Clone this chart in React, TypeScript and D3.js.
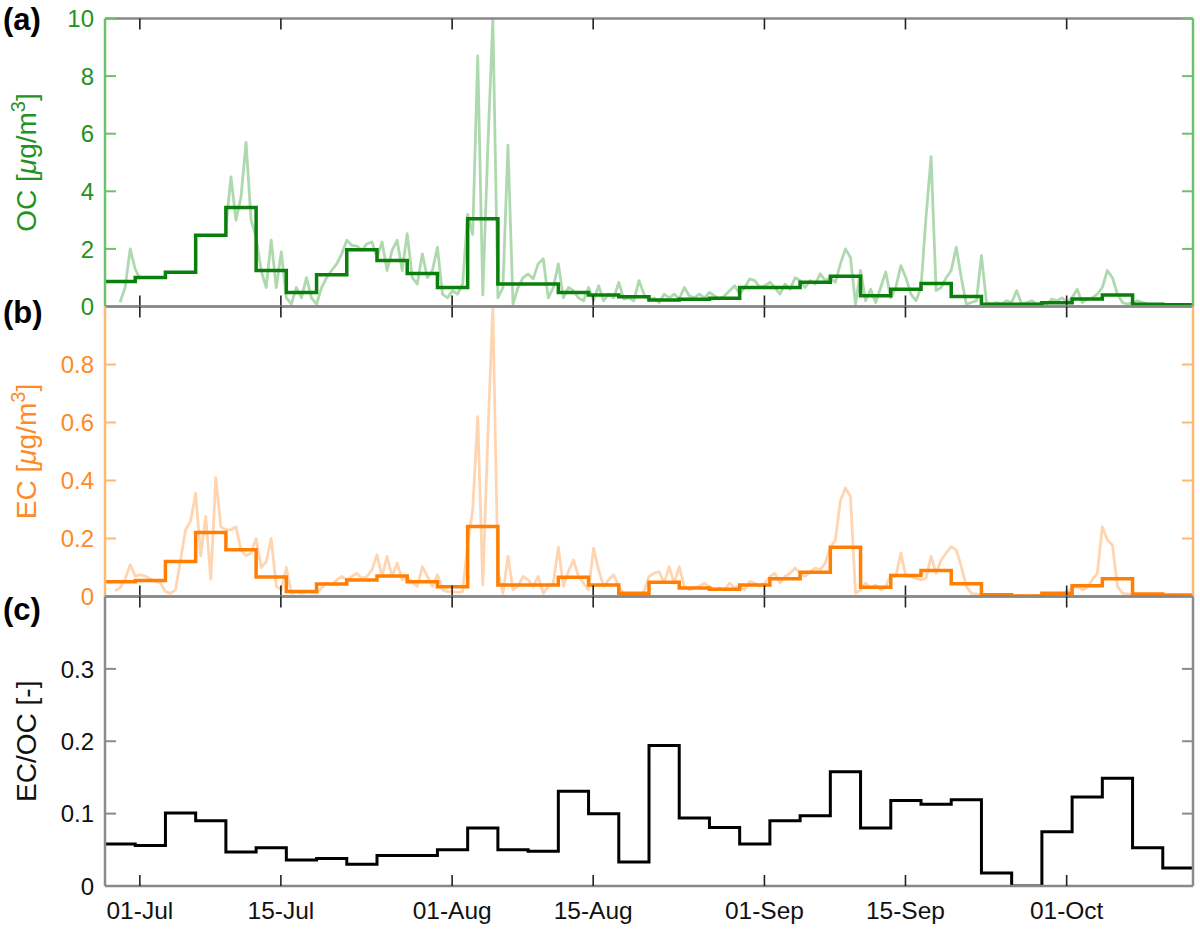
import React, { useEffect, useRef } from "react";
import * as d3 from "d3";

// time base: 3-day filter samples, half-day fine resolution
const START = Date.UTC(2014, 5, 27, 13, 0);
const DAY = 864e5;
const STEP_DAYS = 3;
const FINE_DAYS = 0.5;

const dateTicks = ["2014-07-01", "2014-07-15", "2014-08-01", "2014-08-15", "2014-09-01", "2014-09-15", "2014-10-01"];
const ocTicks = [0, 2, 4, 6, 8, 10];
const ecTicks = [0, 0.2, 0.4, 0.6, 0.8];
const ratioTicks = [0, 0.1, 0.2, 0.3];

// 3-day averages
const ocStep = [0.87, 1.01, 1.19, 2.47, 3.44, 1.25, 0.49, 1.1, 1.97, 1.6, 1.15, 0.66, 3.05, 0.78, 0.78, 0.49, 0.4, 0.34, 0.23, 0.25, 0.29, 0.66, 0.66, 0.84, 1.05, 0.37, 0.6, 0.8, 0.35, 0.08, 0.08, 0.13, 0.26, 0.4, 0.08, 0.06];
const ecStep = [0.051, 0.055, 0.121, 0.221, 0.161, 0.067, 0.017, 0.043, 0.057, 0.071, 0.051, 0.034, 0.241, 0.04, 0.04, 0.066, 0.04, 0.011, 0.049, 0.029, 0.025, 0.04, 0.061, 0.084, 0.17, 0.032, 0.072, 0.09, 0.044, 0.006, 0.002, 0.011, 0.037, 0.061, 0.009, 0.005];
const ratioStep = [0.058, 0.056, 0.101, 0.09, 0.047, 0.053, 0.036, 0.038, 0.03, 0.042, 0.042, 0.05, 0.08, 0.05, 0.048, 0.131, 0.1, 0.033, 0.194, 0.094, 0.081, 0.058, 0.09, 0.097, 0.158, 0.08, 0.118, 0.113, 0.119, 0.018, 0, 0.075, 0.123, 0.149, 0.053, 0.025];

// half-day values (null = no data)
const ocFine = [
  null, null, null, 0.15, 0.66, 2.0, 1.3, 0.95, null, null, null, null,
  null, null, null, null, null, null, null, null, null, null, null, null,
  2.75, 4.5, 3.0, 3.8, 5.7, 3.0, 2.4, 1.25, 0.66, 2.3, 0.66, 1.9,
  0.3, 0.08, 0.66, 0.3, 1.0, 0.3, 0.08, 0.66, 1.0, 1.25, 1.48, 1.83,
  2.3, 2.12, 2.1, 1.95, 2.18, 2.24, 1.7, 2.24, 1.25, 1.95, 2.3, 1.25,
  2.53, 1.0, 0.78, 1.83, 1.0, 1.25, 2.06, 0.43, 0.3, 0.55, 0.43, 0.78,
  3.2, 2.5, 8.7, 0.4, 5.5, 10.0, 0.3, 0.66, 5.6, 0.08, 0.66, 1.0,
  1.13, 0.96, 1.48, 1.66, 0.3, 0.66, 1.48, 0.3, 0.66, 0.55, 0.3, 0.2,
  0.66, 0.2, 0.72, 0.2, 0.43, 0.3, 0.84, 0.26, 0.3, 0.2, 0.9, 0.43,
  0.2, 0.3, 0.14, 0.43, 0.3, 0.43, 0.26, 0.66, 0.37, 0.3, 0.43, 0.3,
  0.49, 0.37, 0.26, 0.37, 0.55, 0.72, 0.43, 0.66, 0.96, 0.9, 0.66, 0.72,
  0.84, 0.66, 0.43, 0.78, 0.6, 1.0, 0.9, 0.66, 0.9, 0.78, 1.13, 0.9,
  1.0, 0.84, 1.48, 2.0, 1.7, 0.08, 1.25, 0.2, 0.6, 0.14, 0.66, 1.2,
  0.3, 0.66, 1.42, 1.0, 0.43, 0.2, 0.66, 3.1, 5.2, 0.55, 0.66, 1.0,
  1.25, 2.06, 1.0, 0.08, 0.14, 0.2, 1.77, 0.14, 0.08, 0.14, 0.08, 0.2,
  0.14, 0.55, 0.08, 0.14, 0.2, 0.08, 0.14, 0.08, 0.26, 0.2, 0.3, 0.14,
  0.3, 0.6, 0.14, 0.26, 0.3, 0.43, 0.66, 1.25, 1.0, 0.43, 0.14, 0.08,
  0.14, 0.2, 0.14, 0.08, 0.06, 0.05, 0.05, 0.04, 0.04, 0.04, 0.04, 0.03,
];
const ecFine = [
  null, null, 0.02, 0.03, 0.06, 0.11, 0.07, 0.075, 0.07, 0.06, 0.052, 0.046,
  0.017, 0.011, 0.023, 0.126, 0.23, 0.26, 0.356, 0.14, 0.276, 0.06, 0.41, 0.24,
  0.23, 0.23, 0.24, 0.16, 0.14, 0.15, 0.2, 0.1, 0.12, 0.2, 0.035, 0.023,
  0.1, 0.011, 0.017, 0.011, 0.017, 0.014, 0.011, 0.03, 0.046, 0.04, 0.057, 0.069,
  0.057, 0.069, 0.08, 0.063, 0.069, 0.092, 0.144, 0.069, 0.138, 0.069, 0.115, 0.057,
  0.069, 0.046, 0.035, 0.103, 0.069, 0.035, 0.075, 0.023, 0.017, 0.017, 0.014, 0.017,
  0.18, 0.3, 0.62, 0.04, 0.55, 1.0, 0.09, 0.011, 0.138, 0.023, 0.035, 0.069,
  0.057, 0.035, 0.069, 0.011, 0.035, 0.046, 0.17, 0.035, 0.086, 0.126, 0.069, 0.046,
  0.023, 0.167, 0.092, 0.035, 0.057, 0.075, 0.035, 0.011, 0.006, 0.011, 0.006, 0.017,
  0.069, 0.08, 0.086, 0.046, 0.103, 0.046, 0.103, 0.035, 0.023, 0.03, 0.035, 0.046,
  0.035, 0.023, 0.03, 0.023, 0.046, 0.03, 0.035, 0.023, 0.052, 0.046, 0.035, 0.046,
  0.069, 0.08, 0.046, 0.069, 0.08, 0.098, 0.08, 0.069, 0.086, 0.098, 0.092, 0.115,
  0.17, 0.195, 0.33, 0.374, 0.345, 0.011, 0.023, 0.046, 0.03, 0.04, 0.023, 0.035,
  0.075, 0.069, 0.15, 0.069, 0.069, 0.063, 0.057, 0.063, 0.138, 0.08, 0.126, 0.15,
  0.172, 0.161, 0.103, 0.035, 0.011, 0.009, 0.006, 0.004, 0.003, 0.004, 0.002, 0.003,
  0.003, 0.002, 0.003, 0.002, 0.002, 0.003, 0.004, 0.008, 0.01, 0.012, 0.01, 0.017,
  0.03, 0.035, 0.023, 0.03, 0.057, 0.08, 0.24, 0.195, 0.178, 0.035, 0.011, 0.009,
  0.006, 0.005, 0.004, 0.003, 0.003, 0.002, 0.002, 0.002, 0.002, 0.001, 0.001, 0.001,
];

const FONT = "'Liberation Sans', Arial, sans-serif";
const X0 = 105;
const X1 = 1193;
const edges = [18.5, 306.5, 596.5, 886];

type Panel = {
  tag: string;
  tagY: number;
  title: string[];
  domain: [number, number];
  ticks: number[];
  axis: string;
  text: string;
  fine: (number | null)[] | null;
  fineColor: string;
  step: number[];
  stepColor: string;
  stepWidth: number;
};

const panels: Panel[] = [
  { tag: "(a)", tagY: 30, title: ["OC [", "μ", "g/m", "3", "]"], domain: [0, 10], ticks: ocTicks, axis: "#6cc26c", text: "#229322", fine: ocFine, fineColor: "#3da53d", step: ocStep, stepColor: "#0b7f0b", stepWidth: 3.5 },
  { tag: "(b)", tagY: 323, title: ["EC [", "μ", "g/m", "3", "]"], domain: [0, 1], ticks: ecTicks, axis: "#ffb870", text: "#ff8a26", fine: ecFine, fineColor: "#ff9c45", step: ecStep, stepColor: "#ff7f05", stepWidth: 3.5 },
  { tag: "(c)", tagY: 620, title: ["EC/OC [-]"], domain: [0, 0.4], ticks: ratioTicks, axis: "#8a8a8a", text: "#111", fine: null, fineColor: "", step: ratioStep, stepColor: "#000", stepWidth: 3 },
];

export default function App() {
  const svgRef = useRef<SVGSVGElement>(null);

  useEffect(() => {
    const svg = d3.select(svgRef.current);
    svg.selectAll("*").remove();

    const end = START + ocStep.length * STEP_DAYS * DAY;
    const x = d3.scaleUtc().domain([new Date(START), new Date(end)]).range([X0, X1]);
    const tickDates = dateTicks.map((s) => new Date(s + "T00:00:00Z"));
    const fmt = d3.utcFormat("%d-%b");

    panels.forEach((p, pi) => {
      const top = edges[pi];
      const bottom = edges[pi + 1];
      const y = d3.scaleLinear().domain(p.domain).range([bottom, top]);
      const g = svg.append("g");

      const clipId = `clip-${pi}`;
      svg.append("clipPath").attr("id", clipId)
        .append("rect").attr("x", X0).attr("y", top).attr("width", X1 - X0).attr("height", bottom - top);

      // fine resolution trace
      if (p.fine) {
        const fineLine = d3.line<number | null>()
          .defined((d) => d != null)
          .x((_, i) => x(new Date(START + i * FINE_DAYS * DAY)))
          .y((d) => y(d as number));
        g.append("path")
          .attr("clip-path", `url(#${clipId})`)
          .attr("d", fineLine(p.fine))
          .attr("fill", "none")
          .attr("stroke", p.fineColor)
          .attr("stroke-opacity", 0.42)
          .attr("stroke-width", 2.8)
          .attr("stroke-linejoin", "round");
      }

      // 3-day averages as steps
      const stepPts: [number, number][] = p.step.map((v, k) => [START + k * STEP_DAYS * DAY, v]);
      stepPts.push([end, p.step[p.step.length - 1]]);
      const stepLine = d3.line<[number, number]>()
        .curve(d3.curveStepAfter)
        .x((d) => x(new Date(d[0])))
        .y((d) => y(d[1]));
      g.append("path")
        .attr("clip-path", `url(#${clipId})`)
        .attr("d", stepLine(stepPts))
        .attr("fill", "none")
        .attr("stroke", p.stepColor)
        .attr("stroke-width", p.stepWidth);

      // frame: gray top/bottom, coloured sides
      g.append("line").attr("x1", X0).attr("x2", X1).attr("y1", top).attr("y2", top)
        .attr("stroke", "#888").attr("stroke-width", 2.5);
      g.append("line").attr("x1", X0).attr("x2", X1).attr("y1", bottom).attr("y2", bottom)
        .attr("stroke", "#888").attr("stroke-width", 2.5);
      [X0, X1].forEach((xx) => {
        g.append("line").attr("x1", xx).attr("x2", xx).attr("y1", top).attr("y2", bottom)
          .attr("stroke", p.axis).attr("stroke-width", 2.5);
      });

      // date ticks, inward at top and bottom
      tickDates.forEach((d) => {
        const xx = x(d);
        g.append("line").attr("x1", xx).attr("x2", xx).attr("y1", top).attr("y2", top + 11)
          .attr("stroke", "#222").attr("stroke-width", 1.6);
        g.append("line").attr("x1", xx).attr("x2", xx).attr("y1", bottom).attr("y2", bottom - 11)
          .attr("stroke", "#222").attr("stroke-width", 1.6);
      });

      // value ticks on both sides, labels on the left
      p.ticks.forEach((t) => {
        const yy = y(t);
        g.append("line").attr("x1", X0).attr("x2", X0 + 11).attr("y1", yy).attr("y2", yy)
          .attr("stroke", p.axis).attr("stroke-width", 2);
        g.append("line").attr("x1", X1).attr("x2", X1 - 11).attr("y1", yy).attr("y2", yy)
          .attr("stroke", p.axis).attr("stroke-width", 2);
        g.append("text")
          .attr("x", 94).attr("y", yy).attr("dy", "0.36em")
          .attr("text-anchor", "end")
          .attr("font-family", FONT).attr("font-size", 24)
          .attr("fill", p.text)
          .text(String(t));
      });

      // axis title
      const cy = (top + bottom) / 2;
      const title = g.append("text")
        .attr("transform", `translate(36,${cy}) rotate(-90)`)
        .attr("text-anchor", "middle")
        .attr("font-family", FONT).attr("font-size", 28)
        .attr("fill", p.text);
      if (p.title.length === 1) {
        title.text(p.title[0]);
      } else {
        title.append("tspan").text(p.title[0]);
        title.append("tspan").attr("font-style", "italic").text(p.title[1]);
        title.append("tspan").text(p.title[2]);
        title.append("tspan").attr("dy", -11).attr("font-size", 20).text(p.title[3]);
        title.append("tspan").attr("dy", 11).text(p.title[4]);
      }

      // panel tag
      svg.append("text")
        .attr("x", 3).attr("y", p.tagY)
        .attr("font-family", FONT).attr("font-size", 31).attr("font-weight", "bold")
        .attr("fill", "#000")
        .text(p.tag);
    });

    // date labels under the bottom panel
    tickDates.forEach((d) => {
      svg.append("text")
        .attr("x", x(d)).attr("y", 919)
        .attr("text-anchor", "middle")
        .attr("font-family", FONT).attr("font-size", 24.5)
        .attr("fill", "#111")
        .text(fmt(d));
    });
  }, []);

  return (
    <svg
      ref={svgRef}
      width={1200}
      height={930}
      style={{ position: "absolute", left: 0, top: 0, background: "#fff" }}
    />
  );
}
